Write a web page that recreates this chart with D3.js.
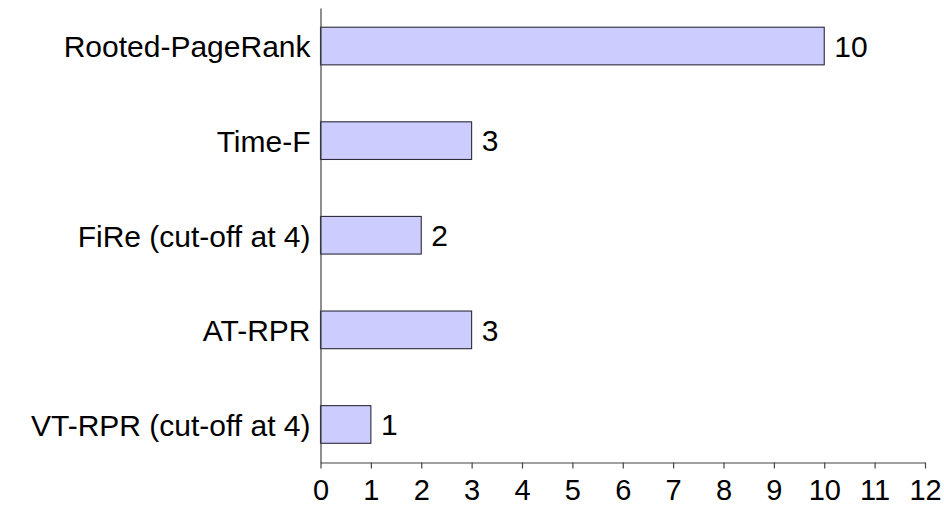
<!DOCTYPE html>
<html>
<head>
<meta charset="utf-8">
<script src="https://cdn.jsdelivr.net/npm/d3@7"></script>
<style>
  html, body { margin: 0; padding: 0; background: #fff; }
  svg { display: block; }
  text { font-family: "Liberation Sans", Arial, sans-serif; fill: #000; }
</style>
</head>
<body>
<svg id="chart" width="944" height="506"></svg>
<script>
const categories = ["Rooted-PageRank", "Time-F", "FiRe (cut-off at 4)", "AT-RPR", "VT-RPR (cut-off at 4)"];
const values = [10, 3, 2, 3, 1];
const xTicks = [0, 1, 2, 3, 4, 5, 6, 7, 8, 9, 10, 11, 12];

const data = categories.map((c, i) => ({ cat: c, val: values[i] }));

const svg = d3.select("#chart");
const plotLeft = 320.5, plotRight = 925, plotTop = 8, plotBottom = 462.5;

const x = d3.scaleLinear().domain([0, 12]).range([plotLeft, plotRight]);
const y = d3.scaleBand().domain(categories).range([plotTop, plotBottom])
  .paddingInner(0.602).paddingOuter(0.203);

// bars
svg.append("g").selectAll("rect").data(data).join("rect")
  .attr("x", x(0))
  .attr("y", d => y(d.cat))
  .attr("width", d => x(d.val) - x(0))
  .attr("height", y.bandwidth())
  .attr("fill", "#ccccff")
  .attr("stroke", "#2b2b3a")
  .attr("stroke-width", 1.1);

// value labels
svg.append("g").selectAll("text").data(data).join("text")
  .attr("x", d => x(d.val) + 10)
  .attr("y", d => y(d.cat) + y.bandwidth() / 2)
  .attr("dy", "0.36em")
  .style("font-size", "30px")
  .text(d => d.val);

// x axis
const xAxis = svg.append("g")
  .attr("transform", `translate(0,${plotBottom})`)
  .call(d3.axisBottom(x).tickValues(xTicks).tickFormat(d3.format("d"))
    .tickSizeInner(6).tickSizeOuter(0).tickPadding(10));
xAxis.selectAll("path, line").attr("stroke", "#444").attr("stroke-width", 1.2);
xAxis.selectAll("text").style("font-size", "29px").attr("fill", "#000").attr("dy", "0.75em");

// y axis
const yAxis = svg.append("g")
  .attr("transform", `translate(${plotLeft},0)`)
  .call(d3.axisLeft(y).tickSize(0).tickPadding(10));
yAxis.selectAll("path").attr("stroke", "#444").attr("stroke-width", 1.2);
yAxis.selectAll("text").style("font-size", "30px").attr("fill", "#000").attr("dy", "0.38em");
</script>
</body>
</html>
